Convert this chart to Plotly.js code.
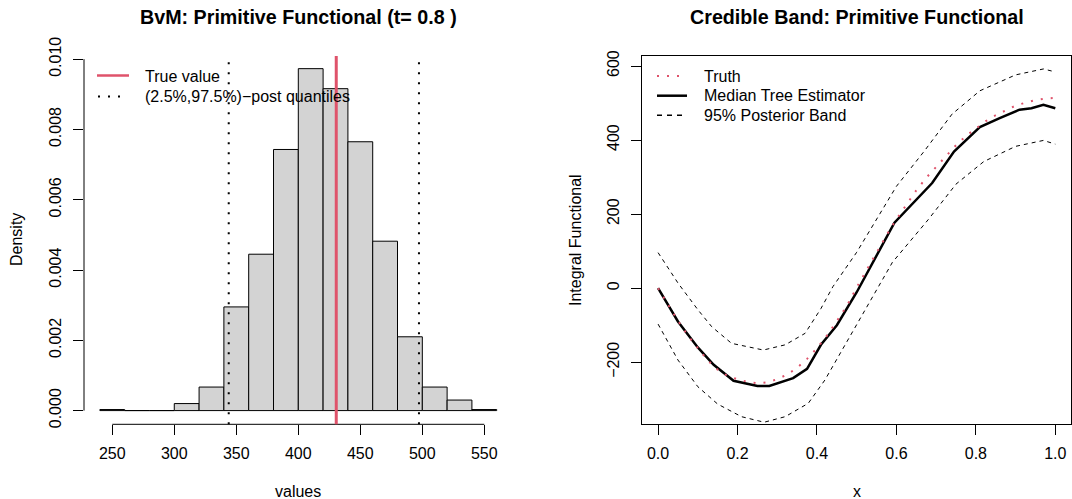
<!DOCTYPE html>
<html>
<head>
<meta charset="utf-8">
<script src="https://cdn.plot.ly/plotly-3.0.1.min.js"></script>
<style>html,body{margin:0;padding:0;background:#fff;}#plot{width:1072px;height:499px;}</style>
</head>
<body>
<div id="plot"></div>
<script>
// ---------- Left panel: histogram data ----------
var binMids = [250, 270, 290, 310, 330, 350, 370, 390, 410, 430, 450, 470, 490, 510, 530, 550];
var density = [0.00003, 0, 0, 0.0002, 0.00067, 0.00295, 0.00445, 0.00743, 0.00973, 0.00916, 0.00765, 0.00482, 0.0021, 0.00067, 0.0003, 0.00003];
var trueValue = 430.6;
var postQuantiles = [343.9, 497.3];
var histXTicks = [250, 300, 350, 400, 450, 500, 550];
var histYTicks = [0, 0.002, 0.004, 0.006, 0.008, 0.010];

// ---------- Right panel: credible band data ----------
var truthX = [0, 0.025, 0.05, 0.075, 0.1, 0.125, 0.15, 0.175, 0.2, 0.225, 0.25, 0.275, 0.3, 0.325, 0.35, 0.375, 0.4, 0.425, 0.45, 0.475, 0.5, 0.525, 0.55, 0.575, 0.6, 0.625, 0.65, 0.675, 0.7, 0.725, 0.75, 0.775, 0.8, 0.825, 0.85, 0.875, 0.9, 0.925, 0.95, 0.975, 1.0];
var truthY = [0, -46, -88, -128, -163, -195, -220, -237, -246, -253, -257, -254, -246, -233, -215, -191, -162, -128, -89, -48, 2, 50, 98, 143, 186, 224, 264, 298, 328, 358, 386, 411, 431, 451, 467, 481, 493, 501, 508, 512, 514];

var medianX = [0, 0.05, 0.1, 0.14, 0.19, 0.25, 0.28, 0.34, 0.375, 0.41, 0.45, 0.5, 0.595, 0.62, 0.69, 0.745, 0.81, 0.86, 0.91, 0.94, 0.97, 1.0];
var medianY = [0, -90, -160, -207, -250, -264, -264, -243, -218, -153, -100, -11, 177, 205, 284, 369, 435, 459, 482, 486, 495, 486];

var upperX = [0, 0.05, 0.1, 0.135, 0.185, 0.265, 0.32, 0.37, 0.41, 0.44, 0.5, 0.6, 0.67, 0.74, 0.81, 0.9, 0.97, 1.0];
var upperY = [96, 14, -58, -104, -149, -167, -153, -122, -55, 4, 97, 275, 370, 470, 533, 576, 592, 584];

var lowerX = [0, 0.05, 0.1, 0.15, 0.21, 0.267, 0.32, 0.378, 0.42, 0.466, 0.59, 0.68, 0.75, 0.82, 0.9, 0.97, 1.0];
var lowerY = [-97, -194, -266, -313, -347, -362, -347, -311, -248, -162, 70, 185, 281, 342, 383, 399, 389];

var bandXTicks = [0, 0.2, 0.4, 0.6, 0.8, 1.0];
var bandYTicks = [-200, 0, 200, 400, 600];

// ---------- geometry helpers (pixels -> paper) ----------
var W = 1072, H = 499;
function px(x) { return x / W; }
function py(y) { return 1 - y / H; }

var FONT = 'Liberation Sans, Arial, Helvetica, sans-serif';
var RED = '#DF536B';

var binWidth = binMids[1] - binMids[0];

var traces = [
  {
    type: 'bar', x: binMids, y: density, width: binWidth,
    marker: {color: '#D3D3D3', line: {color: '#000000', width: 1}},
    xaxis: 'x', yaxis: 'y', hoverinfo: 'skip', showlegend: false
  },
  {
    type: 'scatter', mode: 'lines', x: upperX, y: upperY,
    line: {color: '#000000', width: 1, dash: '4px,4px'},
    xaxis: 'x2', yaxis: 'y2', showlegend: false, hoverinfo: 'skip'
  },
  {
    type: 'scatter', mode: 'lines', x: lowerX, y: lowerY,
    line: {color: '#000000', width: 1, dash: '4px,4px'},
    xaxis: 'x2', yaxis: 'y2', showlegend: false, hoverinfo: 'skip'
  },
  {
    type: 'scatter', mode: 'lines', x: medianX, y: medianY,
    line: {color: '#000000', width: 2.5},
    xaxis: 'x2', yaxis: 'y2', showlegend: false, hoverinfo: 'skip'
  },
  {
    type: 'scatter', mode: 'lines', x: truthX, y: truthY,
    line: {color: RED, width: 2, dash: '2px,8px'},
    xaxis: 'x2', yaxis: 'y2', showlegend: false, hoverinfo: 'skip'
  }
];

var yDom = [py(424.3), py(56)];

var tickFont = {family: FONT, size: 16, color: '#000000'};

var shapes = [
  // left panel axis lines (R style: only between end ticks)
  {type: 'line', xref: 'x', yref: 'paper', x0: histXTicks[0], x1: histXTicks[histXTicks.length - 1], y0: yDom[0], y1: yDom[0], line: {color: '#000000', width: 1}},
  {type: 'line', xref: 'paper', yref: 'y', x0: px(84), x1: px(84), y0: histYTicks[0], y1: histYTicks[histYTicks.length - 1], line: {color: '#000000', width: 1}},
  // quantile lines
  {type: 'line', xref: 'x', yref: 'y domain', x0: postQuantiles[0], x1: postQuantiles[0], y0: 0, y1: 1, line: {color: '#000000', width: 2, dash: '2px,8px'}},
  {type: 'line', xref: 'x', yref: 'y domain', x0: postQuantiles[1], x1: postQuantiles[1], y0: 0, y1: 1, line: {color: '#000000', width: 2, dash: '2px,8px'}},
  // true value
  {type: 'line', xref: 'x', yref: 'y domain', x0: trueValue, x1: trueValue, y0: 0, y1: 1, line: {color: RED, width: 3}},
  // left legend samples
  {type: 'line', xref: 'paper', yref: 'paper', x0: px(97), x1: px(129), y0: py(75.5), y1: py(75.5), line: {color: RED, width: 2.5}},
  {type: 'line', xref: 'paper', yref: 'paper', x0: px(98), x1: px(122), y0: py(96.5), y1: py(96.5), line: {color: '#000000', width: 2, dash: '2px,8px'}},
  // right legend samples
  {type: 'line', xref: 'paper', yref: 'paper', x0: px(657), x1: px(687), y0: py(76), y1: py(76), line: {color: RED, width: 2, dash: '2px,8px'}},
  {type: 'line', xref: 'paper', yref: 'paper', x0: px(657), x1: px(687), y0: py(95.7), y1: py(95.7), line: {color: '#000000', width: 2.5}},
  {type: 'line', xref: 'paper', yref: 'paper', x0: px(657), x1: px(687), y0: py(115.3), y1: py(115.3), line: {color: '#000000', width: 1.5, dash: '5px,5px'}}
];

function ann(text, x, y, opts) {
  var a = {text: text, x: px(x), y: py(y), xref: 'paper', yref: 'paper', showarrow: false,
           xanchor: 'center', yanchor: 'middle', font: {family: FONT, size: 16, color: '#000000'}};
  for (var k in (opts || {})) a[k] = opts[k];
  return a;
}

var annotations = [
  ann('<b>BvM: Primitive Functional (t= 0.8 )</b>', 298.5, 17.3, {font: {family: FONT, size: 19.7, color: '#000000'}}),
  ann('<b>Credible Band: Primitive Functional</b>', 856.8, 17.3, {font: {family: FONT, size: 19.7, color: '#000000'}}),
  ann('values', 298.3, 491),
  ann('x', 856.8, 491),
  ann('Density', 16, 240, {textangle: -90}),
  ann('Integral Functional', 575, 240, {textangle: -90}),
  ann('True value', 143, 76.5, {xanchor: 'left'}),
  ann('(2.5%,97.5%)\u2212post quantiles', 143, 96.5, {xanchor: 'left'}),
  ann('Truth', 701.5, 76, {xanchor: 'left'}),
  ann('Median Tree Estimator', 701.5, 95.7, {xanchor: 'left'}),
  ann('95% Posterior Band', 701.5, 115.3, {xanchor: 'left'})
];

var layout = {
  width: W, height: H,
  margin: {l: 0, r: 0, t: 0, b: 0, pad: 0},
  paper_bgcolor: '#ffffff', plot_bgcolor: 'rgba(0,0,0,0)',
  showlegend: false,
  bargap: 0,
  font: {family: FONT, size: 16, color: '#000000'},
  xaxis: {
    domain: [px(84), px(512.6)], range: [227.2, 572.8],
    tickvals: histXTicks, ticktext: histXTicks.map(String),
    ticks: 'outside', ticklen: 10, tickwidth: 1, tickcolor: '#000000',
    showline: false, showgrid: false, zeroline: false, tickfont: tickFont,
    ticklabelstandoff: 4, anchor: 'y', fixedrange: true
  },
  yaxis: {
    domain: yDom, range: [-0.00039, 0.01009],
    tickvals: histYTicks, ticktext: histYTicks.map(function (v) { return v.toFixed(3); }),
    ticks: 'outside', ticklen: 10, tickwidth: 1, tickcolor: '#000000', tickangle: -90,
    showline: false, showgrid: false, zeroline: false, tickfont: tickFont,
    ticklabelstandoff: 6, anchor: 'x', fixedrange: true
  },
  xaxis2: {
    domain: [px(642.2), px(1071.2)], range: [-0.04, 1.04],
    tickvals: bandXTicks, ticktext: bandXTicks.map(function (v) { return v.toFixed(1); }),
    ticks: 'outside', ticklen: 10, tickwidth: 1, tickcolor: '#000000',
    showline: true, mirror: true, linecolor: '#000000', linewidth: 1,
    showgrid: false, zeroline: false, tickfont: tickFont,
    ticklabelstandoff: 4, anchor: 'y2', fixedrange: true
  },
  yaxis2: {
    domain: yDom, range: [-367.6, 627],
    tickvals: bandYTicks, ticktext: bandYTicks.map(function (v) { return v < 0 ? '\u2212' + Math.abs(v) : String(v); }),
    ticks: 'outside', ticklen: 10, tickwidth: 1, tickcolor: '#000000', tickangle: -90,
    showline: true, mirror: true, linecolor: '#000000', linewidth: 1,
    showgrid: false, zeroline: false, tickfont: tickFont,
    ticklabelstandoff: 6, anchor: 'x2', fixedrange: true
  },
  shapes: shapes,
  annotations: annotations
};

Plotly.newPlot('plot', traces, layout, {displayModeBar: false, staticPlot: true});
</script>
</body>
</html>
